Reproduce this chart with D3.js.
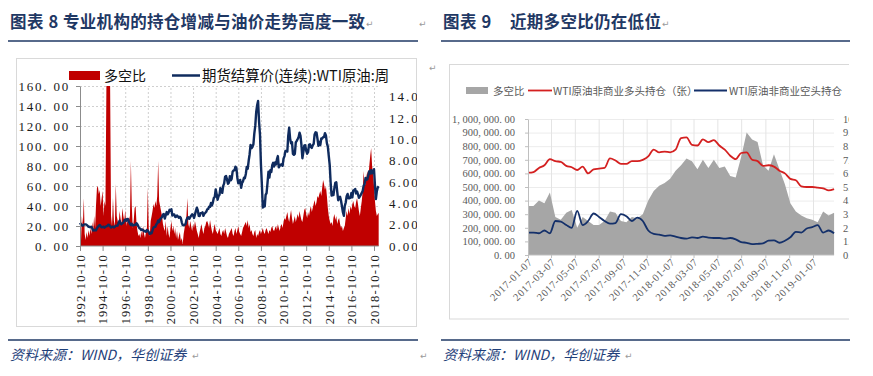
<!DOCTYPE html>
<html><head><meta charset="utf-8">
<script src="https://cdn.jsdelivr.net/npm/d3@7"></script>
<style>body{margin:0;background:#fff}svg{display:block}</style>
</head><body>
<svg id="chart" width="873" height="376"></svg>
<script>
// ---------------- data ----------------
const leftTitleHead = "图表 8";
const leftTitleBody = "专业机构的持仓增减与油价走势高度一致";
const rightTitleHead = "图表 9";
const rightTitleBody = "近期多空比仍在低位";
const sourceText = "资料来源：WIND，华创证券";

// Chart 8 : monthly, starting 1992-10
const c8Start = "1992-10-10";
const c8Ratio = [
  14, 4, 30,
  20, 48, 12, 6, 14, 8, 16, 10, 18, 12, 24, 15,
  30, 18, 40, 58, 60, 52, 56, 40, 48, 55, 30, 45,
  40, 165, 165, 165, 165, 165, 30, 20, 48, 25, 20, 62,
  30, 25, 20, 35, 28, 22, 38, 30, 25, 36, 20, 28,
  22, 30, 26, 85, 40, 18, 25, 38, 40, 22, 15, 10,
  12, 8, 15, 10, 20, 12, 8, 14, 18, 58, 15, 10,
  25, 30, 35, 42, 38, 45, 40, 50, 85, 45, 40, 35,
  30, 22, 18, 15, 25, 10, 20, 12, 8, 18, 25, 15,
  20, 12, 18, 8, 15, 6, 10, 14, 5, 8, 2, 12,
  18, 25, 30, 48, 22, 18, 25, 20, 15, 22, 18, 25,
  20, 15, 12, 8, 14, 18, 22, 16, 12, 18, 20, 24,
  25, 22, 18, 26, 20, 15, 12, 18, 22, 16, 14, 12,
  15, 18, 12, 10, 14, 16, 12, 18, 14, 10, 8, 12,
  14, 16, 18, 12, 10, 15, 18, 12, 16, 20, 14, 12,
  10, 14, 18, 20, 22, 24, 20, 26, 18, 22, 14, 16,
  12, 10, 14, 16, 8, 12, 10, 14, 16, 12, 15, 18,
  14, 12, 16, 18, 15, 12, 16, 14, 18, 20, 16, 15,
  18, 20, 16, 22, 18, 15, 20, 22, 18, 24, 28, 26,
  30, 34, 28, 24, 30, 36, 28, 22, 26, 30, 24, 28,
  32, 28, 35, 30, 26, 24, 30, 36, 38, 32, 28, 34,
  30, 36, 40, 34, 38, 42, 46, 40, 44, 50, 48, 52,
  55, 50, 58, 66, 62, 56, 60, 50, 38, 30, 25, 22,
  24, 20, 28, 32, 26, 30, 22, 26, 28, 22, 18, 20,
  15, 18, 20, 28, 35, 30, 38, 32, 40, 36, 42, 45,
  40, 38, 44, 48, 42, 35, 30, 38, 45, 55, 75, 60,
  62, 70, 75, 68, 80, 90, 98, 80, 72, 60, 45, 35,
  30, 32, 33
];
const c8WTI = [
  2.17, 2.03, 1.94,
  1.90, 2.01, 2.03, 2.03, 1.99, 1.91, 1.79, 1.80, 1.75, 1.81, 1.67, 1.45,
  1.50, 1.48, 1.47, 1.64, 1.79, 1.91, 1.97, 1.84, 1.75, 1.77, 1.81, 1.72,
  1.80, 1.85, 1.86, 1.99, 1.97, 1.84, 1.73, 1.80, 1.82, 1.74, 1.80, 1.90,
  1.89, 1.91, 2.14, 2.36, 2.12, 2.04, 2.13, 2.19, 2.39, 2.49, 2.37, 2.54,
  2.52, 2.22, 2.09, 1.97, 2.08, 1.92, 1.96, 1.99, 1.98, 2.13, 2.02, 1.83,
  1.67, 1.61, 1.50, 1.54, 1.49, 1.37, 1.41, 1.34, 1.50, 1.44, 1.29, 1.13,
  1.25, 1.20, 1.47, 1.73, 1.78, 1.79, 2.01, 2.13, 2.39, 2.26, 2.50, 2.61,
  2.72, 2.94, 2.99, 2.57, 2.88, 3.18, 2.97, 3.13, 3.39, 3.31, 3.44, 2.85,
  2.96, 2.96, 2.72, 2.74, 2.86, 2.76, 2.64, 2.74, 2.62, 2.22, 1.96, 1.93,
  1.97, 2.07, 2.44, 2.63, 2.70, 2.55, 2.70, 2.84, 2.97, 2.89, 2.63, 2.94,
  3.29, 3.59, 3.36, 2.83, 2.81, 3.07, 3.08, 3.16, 2.83, 3.03, 3.11, 3.21,
  3.43, 3.47, 3.68, 3.67, 4.03, 3.80, 4.07, 4.49, 4.60, 5.31, 4.85, 4.33,
  4.68, 4.80, 5.43, 5.30, 4.98, 5.63, 5.87, 6.50, 6.56, 6.24, 5.83, 5.94,
  6.55, 6.16, 6.29, 6.97, 7.09, 7.10, 7.44, 7.31, 6.38, 5.89, 5.91, 6.20,
  5.45, 5.93, 6.04, 6.39, 6.35, 6.75, 7.41, 7.24, 7.99, 8.58, 9.48, 9.17,
  9.29, 9.54, 10.54, 11.26, 12.54, 13.20, 13.60, 11.67, 10.41, 7.66, 5.73, 3.60,
  4.17, 3.71, 4.79, 4.96, 5.90, 6.96, 6.42, 7.11, 6.94, 7.57, 7.80, 7.45,
  7.83, 7.64, 8.12, 8.43, 7.37, 7.53, 7.63, 7.66, 7.52, 8.19, 8.43, 8.92,
  8.92, 8.86, 10.29, 11.10, 10.09, 9.63, 9.73, 8.63, 8.55, 8.63, 9.72, 9.86,
  10.03, 10.22, 10.62, 10.33, 9.47, 8.23, 8.79, 9.41, 9.45, 8.95, 8.65, 8.79,
  9.48, 9.53, 9.29, 9.20, 9.45, 9.58, 10.46, 10.66, 10.63, 10.05, 9.39, 9.76,
  9.46, 10.08, 10.08, 10.21, 10.22, 10.58, 10.36, 9.65, 9.32, 8.44, 7.58, 5.93,
  4.72, 5.06, 4.78, 5.45, 5.93, 5.98, 5.09, 4.29, 4.55, 4.62, 4.24, 3.72,
  3.17, 2.83, 3.75, 4.08, 4.67, 4.88, 4.47, 4.47, 4.52, 4.98, 4.57, 5.20,
  5.25, 5.35, 4.93, 5.11, 4.85, 4.52, 4.66, 4.80, 4.98, 5.16, 5.66, 5.79,
  6.37, 6.22, 6.27, 6.63, 7.00, 6.79, 7.10, 6.81, 7.02, 7.20, 5.70, 4.40,
  5.14, 5.49, 5.60
];
const c8LeftTicks = [0, 20, 40, 60, 80, 100, 120, 140, 160];
const c8LeftTickLabels = ["0. 00","20. 00","40. 00","60. 00","80. 00","100. 00","120. 00","140. 00","160. 00"];
const c8RightTicks = [0, 2, 4, 6, 8, 10, 12, 14];
const c8RightTickLabels = ["0.00","2.00","4.00","6.00","8.00","10.00","12.00","14.00"];
const c8XTicks = ["1992-10-10","1994-10-10","1996-10-10","1998-10-10","2000-10-10","2002-10-10","2004-10-10",
                  "2006-10-10","2008-10-10","2010-10-10","2012-10-10","2014-10-10","2016-10-10","2018-10-10"];
const c8Legend = ["多空比", "期货结算价(连续):WTI原油:周"];

// Chart 9 : bi-weekly
const c9Dates = ["2017-01-07","2017-01-21","2017-02-04","2017-02-18","2017-03-04","2017-03-18","2017-04-01","2017-04-15",
  "2017-04-29","2017-05-13","2017-05-27","2017-06-10","2017-06-24","2017-07-08","2017-07-22","2017-08-05","2017-08-19",
  "2017-09-02","2017-09-16","2017-09-30","2017-10-14","2017-10-28","2017-11-11","2017-11-25","2017-12-09","2017-12-23",
  "2018-01-06","2018-01-20","2018-02-03","2018-02-17","2018-03-03","2018-03-17","2018-03-31","2018-04-14","2018-04-28",
  "2018-05-12","2018-05-26","2018-06-09","2018-06-23","2018-07-07","2018-07-21","2018-08-04","2018-08-18","2018-09-01",
  "2018-09-15","2018-09-29","2018-10-13","2018-10-27","2018-11-10","2018-11-24","2018-12-08","2018-12-22","2019-01-05",
  "2019-01-19","2019-02-02","2019-02-16","2019-03-02"];
const c9Ratio = [3.6,3.6,4.0,3.8,4.6,2.8,2.6,3.1,3.3,2.0,2.8,2.5,2.2,2.2,2.5,3.2,3.1,2.5,2.4,2.8,2.7,3.0,4.0,4.7,5.1,5.3,
  5.6,6.2,6.6,7.1,6.9,6.3,7.0,6.4,7.0,6.4,6.5,5.8,5.7,7.2,9.0,8.5,8.3,6.6,6.2,7.4,6.3,5.2,3.8,3.2,2.9,2.7,2.6,2.4,3.2,2.9,3.1];
const c9Long = [605000,610000,640000,660000,705000,690000,685000,655000,645000,625000,650000,600000,630000,635000,640000,
  710000,695000,670000,670000,690000,690000,700000,725000,775000,755000,760000,755000,775000,860000,865000,810000,805000,
  850000,830000,845000,805000,775000,730000,705000,750000,755000,700000,690000,655000,660000,650000,620000,600000,560000,
  550000,505000,500000,500000,495000,490000,475000,485000];
const c9Short = [165000,165000,160000,180000,160000,250000,245000,220000,200000,325000,220000,250000,305000,280000,250000,
  230000,235000,300000,285000,250000,275000,250000,180000,155000,150000,140000,145000,135000,125000,120000,130000,125000,
  135000,128000,125000,125000,120000,125000,115000,95000,90000,80000,82000,85000,105000,108000,90000,105000,130000,
  170000,165000,195000,205000,220000,165000,180000,160000];
const c9LeftTicks = [0,100000,200000,300000,400000,500000,600000,700000,800000,900000,1000000];
const c9LeftTickLabels = ["0. 00","100, 000. 00","200, 000. 00","300, 000. 00","400, 000. 00","500, 000. 00",
  "600, 000. 00","700, 000. 00","800, 000. 00","900, 000. 00","1, 000, 000. 00"];
const c9RightTicks = [0,1,2,3,4,5,6,7,8,9,10];
const c9RightTickLabels = ["0.00","1.00","2.00","3.00","4.00","5.00","6.00","7.00","8.00","9.00","10.00"];
const c9XTicks = ["2017-01-07","2017-03-07","2017-05-07","2017-07-07","2017-09-07","2017-11-07","2018-01-07",
  "2018-03-07","2018-05-07","2018-07-07","2018-09-07","2018-11-07","2019-01-07"];
const c9Legend = ["多空比", "WTI原油非商业多头持仓（张）", "WTI原油非商业空头持仓"];

// ---------------- drawing ----------------
const svg = d3.select("#chart");
const parse = d3.timeParse("%Y-%m-%d");
const NAVY = "#1f3864";
const serif = "'Liberation Serif','Times New Roman',serif";
const cjk = "'Noto Sans CJK SC','Noto Sans',sans-serif";
svg.append("rect").attr("width",873).attr("height",376).attr("fill","#fff");

const defs = svg.append("defs");
defs.append("clipPath").attr("id","clip8").append("rect").attr("x",16).attr("y",58).attr("width",401).attr("height",270);
defs.append("clipPath").attr("id","clip9").append("rect").attr("x",440).attr("y",60).attr("width",409).attr("height",262);

function mark(x, y) {
  svg.append("text").attr("x",x).attr("y",y).text("↵")
    .attr("font-family","'DejaVu Sans',sans-serif").attr("font-size",9).attr("fill","#9a9a9a");
}

function frame(x0, x1, headTxt, bodyTxt, bodyX) {
  svg.append("text").attr("x",x0+2).attr("y",27.5).text(headTxt)
    .attr("font-family",cjk).attr("font-weight",700).attr("font-size",16.5).attr("letter-spacing",0.6).attr("fill",NAVY);
  svg.append("text").attr("x",bodyX).attr("y",27.5).text(bodyTxt)
    .attr("font-family",cjk).attr("font-weight",700).attr("font-size",16.5).attr("letter-spacing",0.3).attr("fill",NAVY);
  svg.append("line").attr("x1",x0).attr("x2",x1).attr("y1",41).attr("y2",41).attr("stroke",NAVY).attr("stroke-width",1.5);
  svg.append("line").attr("x1",x0).attr("x2",x1).attr("y1",340).attr("y2",340).attr("stroke",NAVY).attr("stroke-width",1.5);
  svg.append("text").attr("x",x0+2).attr("y",360).text(sourceText)
    .attr("font-family",cjk).attr("font-style","italic").attr("font-size",14).attr("fill","#1f3f7a");
}
frame(8, 418, leftTitleHead, leftTitleBody, 63);
frame(441, 850, rightTitleHead, rightTitleBody, 510);
mark(366, 27); mark(419, 27); mark(429, 71); mark(192, 359); mark(420, 359); mark(662, 27); mark(625, 359);

// ===== Chart 8 =====
const g8 = svg.append("g").attr("clip-path","url(#clip8)");
g8.append("rect").attr("x",16.5).attr("y",58.5).attr("width",400).attr("height",268)
  .attr("fill","#fff").attr("stroke","#d9d9d9");
const start8 = parse(c8Start);
const ratio8 = c8Ratio.map((v,i)=>({d:d3.timeMonth.offset(start8,i), v}));
const wti8 = c8WTI.map((v,i)=>({d:d3.timeMonth.offset(start8,i), v}));
const xt8 = c8XTicks.map(parse);
const x8 = d3.scaleTime().domain([xt8[0], xt8[xt8.length-1]]).range([80,374]);
const yL8 = d3.scaleLinear().domain([0,160]).range([246,86]).clamp(true);
const yR8 = d3.scaleLinear().domain([0,15]).range([246,86]);
const xEnd8 = x8(ratio8[ratio8.length-1].d);

// grid
g8.append("g").attr("transform","translate(80,0)")
  .call(d3.axisLeft(yL8).tickValues(c8LeftTicks.slice(1)).tickSize(-(xEnd8-80)).tickFormat(""))
  .call(g=>g.select(".domain").remove())
  .call(g=>g.selectAll("line").attr("stroke","#cfcfcf").attr("stroke-dasharray","2,2"));
g8.append("g").attr("transform","translate(0,246)")
  .call(d3.axisBottom(x8).tickValues(xt8.slice(1)).tickSize(-160).tickFormat(""))
  .call(g=>g.select(".domain").remove())
  .call(g=>g.selectAll("line").attr("stroke","#cfcfcf").attr("stroke-dasharray","2,2"));

// red area
g8.append("path").datum(ratio8)
  .attr("d", d3.area().x(d=>x8(d.d)).y0(yL8(0)).y1(d=>yL8(d.v)))
  .attr("fill","#c00000");
// line
g8.append("path").datum(wti8)
  .attr("d", d3.line().x(d=>x8(d.d)).y(d=>yR8(d.v)))
  .attr("fill","none").attr("stroke","#0f2b5e").attr("stroke-width",2.4).attr("stroke-linejoin","round");

// axes
const axL8 = g8.append("g").attr("transform","translate(80,0)")
  .call(d3.axisLeft(yL8).tickValues(c8LeftTicks).tickSizeInner(4).tickSizeOuter(0).tickPadding(6)
        .tickFormat((d,i)=>c8LeftTickLabels[i]));
axL8.selectAll("line,path").attr("stroke","#8c8c8c");
axL8.selectAll("text").attr("font-family",serif).attr("font-size",13).attr("letter-spacing",1.8).attr("fill","#1a1a1a");

const axR8 = g8.append("g").attr("transform","translate(389,0)")
  .call(d3.axisRight(yR8).tickValues(c8RightTicks).tickSize(0).tickPadding(0)
        .tickFormat((d,i)=>c8RightTickLabels[i]));
axR8.select(".domain").remove();
axR8.selectAll("text").attr("font-family",serif).attr("font-size",13).attr("letter-spacing",2).attr("fill","#1a1a1a");

const axB8 = g8.append("g").attr("transform","translate(0,246)")
  .call(d3.axisBottom(x8).tickValues(xt8).tickSizeInner(5).tickSizeOuter(0).tickFormat((d,i)=>c8XTicks[i]));
axB8.select(".domain").remove();
axB8.append("line").attr("x1",80).attr("x2",xEnd8).attr("stroke","#8c8c8c");
axB8.selectAll("line").attr("stroke","#8c8c8c");
axB8.selectAll("text").attr("transform","rotate(-90)").attr("x",-8).attr("y",0).attr("dy","0.35em")
  .style("text-anchor","end").attr("font-family",serif).attr("font-size",12.5).attr("letter-spacing",1.2).attr("fill","#1a1a1a");

// legend
g8.append("rect").attr("x",69).attr("y",71).attr("width",31).attr("height",9).attr("fill","#c00000");
g8.append("text").attr("x",104).attr("y",80.5).text(c8Legend[0]).attr("font-family",cjk).attr("font-size",14).attr("fill","#111");
g8.append("line").attr("x1",172).attr("x2",200).attr("y1",75.5).attr("y2",75.5).attr("stroke","#0f2b5e").attr("stroke-width",2.5);
g8.append("text").attr("x",202).attr("y",80.5).text(c8Legend[1]).attr("font-family",cjk).attr("font-size",14.4).attr("fill","#111");

// ===== Chart 9 =====
const g9 = svg.append("g").attr("clip-path","url(#clip9)");
g9.append("rect").attr("x",449.5).attr("y",64.5).attr("width",400).attr("height",254.5)
  .attr("fill","#fff").attr("stroke","#d9d9d9");
const d9 = c9Dates.map(parse);
const xt9 = c9XTicks.map(parse);
const x9 = d3.scaleTime().domain([xt9[0], xt9[xt9.length-1]]).range([528,813]);
const yL9 = d3.scaleLinear().domain([0,1000000]).range([255,119]);
const yR9 = d3.scaleLinear().domain([0,10]).range([255,119]);
const xEnd9 = x9(d9[d9.length-1]);

g9.append("g").attr("transform","translate(528,0)")
  .call(d3.axisLeft(yL9).tickValues(c9LeftTicks.slice(1)).tickSize(-(xEnd9-528)).tickFormat(""))
  .call(g=>g.select(".domain").remove())
  .call(g=>g.selectAll("line").attr("stroke","#ececec"));
g9.append("g").attr("transform","translate(0,255)")
  .call(d3.axisBottom(x9).tickValues(xt9.slice(1)).tickSize(-136).tickFormat(""))
  .call(g=>g.select(".domain").remove())
  .call(g=>g.selectAll("line").attr("stroke","#e4e4e4"));

g9.append("path").datum(c9Ratio)
  .attr("d", d3.area().x((d,i)=>x9(d9[i])).y0(yR9(0)).y1(d=>yR9(d)))
  .attr("fill","#a6a6a6");
g9.append("path").datum(c9Long)
  .attr("d", d3.line().x((d,i)=>x9(d9[i])).y(d=>yL9(d)).curve(d3.curveMonotoneX))
  .attr("fill","none").attr("stroke","#d42020").attr("stroke-width",1.8);
g9.append("path").datum(c9Short)
  .attr("d", d3.line().x((d,i)=>x9(d9[i])).y(d=>yL9(d)).curve(d3.curveMonotoneX))
  .attr("fill","none").attr("stroke","#14306a").attr("stroke-width",1.8);

const axL9 = g9.append("g").attr("transform","translate(528,0)")
  .call(d3.axisLeft(yL9).tickValues(c9LeftTicks).tickSizeInner(3).tickSizeOuter(0).tickPadding(10)
        .tickFormat((d,i)=>c9LeftTickLabels[i]));
axL9.selectAll("line,path").attr("stroke","#bfbfbf");
axL9.selectAll("text").attr("font-family",serif).attr("font-size",10.5).attr("fill","#595959");

const axR9 = g9.append("g").attr("transform","translate(843,0)")
  .call(d3.axisRight(yR9).tickValues(c9RightTicks).tickSize(0).tickPadding(0)
        .tickFormat((d,i)=>c9RightTickLabels[i]));
axR9.select(".domain").remove();
axR9.selectAll("text").attr("font-family",serif).attr("font-size",10.5).attr("fill","#595959");

const axB9 = g9.append("g").attr("transform","translate(0,255)")
  .call(d3.axisBottom(x9).tickValues(xt9).tickSizeInner(3).tickSizeOuter(0).tickFormat((d,i)=>c9XTicks[i]));
axB9.select(".domain").remove();
axB9.append("line").attr("x1",528).attr("x2",xEnd9).attr("stroke","#bfbfbf");
axB9.selectAll("line").attr("stroke","#bfbfbf");
axB9.selectAll("text").attr("transform","translate(2,5) rotate(-45)").attr("x",0).attr("y",0).attr("dy","0.35em")
  .style("text-anchor","end").attr("font-family",serif).attr("font-size",10.5).attr("letter-spacing",0.6).attr("fill","#595959");

// legend
g9.append("rect").attr("x",466).attr("y",87).attr("width",22).attr("height",7).attr("fill","#a6a6a6");
g9.append("text").attr("x",493).attr("y",94.5).text(c9Legend[0]).attr("font-family",cjk).attr("font-size",10.5).attr("fill","#595959");
g9.append("line").attr("x1",528).attr("x2",552).attr("y1",90.5).attr("y2",90.5).attr("stroke","#d42020").attr("stroke-width",1.8);
g9.append("text").attr("x",553).attr("y",94.5).text(c9Legend[1]).attr("font-family",cjk).attr("font-size",10.5).attr("fill","#595959");
g9.append("line").attr("x1",694).attr("x2",727).attr("y1",90.5).attr("y2",90.5).attr("stroke","#14306a").attr("stroke-width",1.8);
g9.append("text").attr("x",729).attr("y",94.5).text(c9Legend[2]).attr("font-family",cjk).attr("font-size",10.5).attr("fill","#595959");
</script>
</body></html>
